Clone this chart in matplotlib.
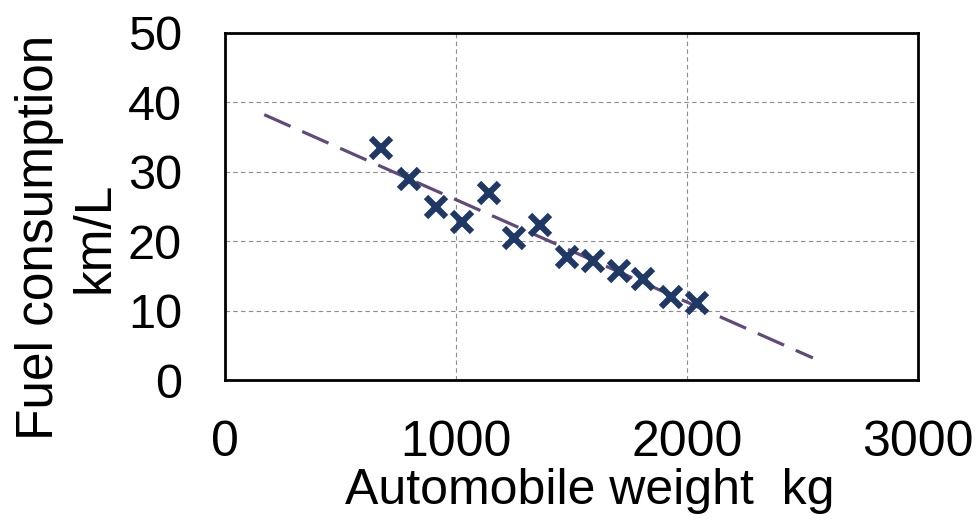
import numpy as np
import matplotlib
matplotlib.use("Agg")
from matplotlib import pyplot as plt

# Data
weight = [676, 797, 913, 1025, 1141, 1253, 1363, 1479, 1591, 1705, 1811, 1931, 2042]  # kg
fuel = [33.5, 28.9, 24.9, 22.8, 27.0, 20.4, 22.3, 17.7, 17.2, 15.7, 14.5, 12.0, 11.1]  # km/L
trend_range = [170, 2545]  # extent of the linear trendline
x_ticks = [0, 1000, 2000, 3000]
y_ticks = [0, 10, 20, 30, 40, 50]

plt.rcParams['font.family'] = ['Liberation Sans', 'DejaVu Sans']

fig = plt.figure(figsize=(9.79, 5.26), dpi=100)
ax = fig.add_axes([225 / 979, 1 - 380 / 526, (918 - 225) / 979, (380 - 33) / 526])

# linear trendline through the points
slope, intercept = np.polyfit(weight, fuel, 1)
tx = np.array(trend_range)
ax.plot(tx, slope * tx + intercept, color='#604A7B', linewidth=2.3, dashes=(9, 4), zorder=2)

ax.plot(weight, fuel, linestyle='none', marker='x', markersize=15, markeredgewidth=4.5,
        color='#1F3864', zorder=3)

ax.set_xlim(0, 3000)
ax.set_ylim(0, 50)
ax.set_xticks(x_ticks)
ax.set_yticks(y_ticks)
ax.grid(True, color='#8C8C8C', linewidth=0.8, linestyle=(0, (4, 3)))
ax.set_axisbelow(True)
for s in ax.spines.values():
    s.set_linewidth(2.0)
    s.set_color('black')

ax.tick_params(axis='x', length=0, labelsize=36, pad=29)
ax.tick_params(axis='y', length=0, labelsize=35, pad=31)

ax.set_xlabel('Automobile weight  kg', fontsize=36)
ax.xaxis.set_label_coords(0.527, -0.255)
ax.set_ylabel('Fuel consumption\nkm/L', fontsize=37, linespacing=1.17)
ax.yaxis.set_label_coords(-0.152, 0.412)

fig.savefig('out.png', dpi=100)
